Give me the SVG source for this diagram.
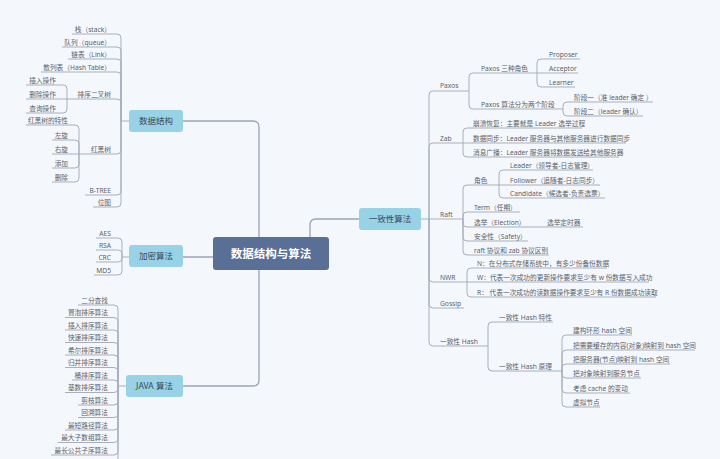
<svg xmlns="http://www.w3.org/2000/svg" width="720" height="459" viewBox="0 0 720 459">
<style>
.t{font-family:"Noto Sans","Noto Sans CJK SC",sans-serif;font-size:6.7px;fill:#5c6168}
.e{text-anchor:end}
.b{font-family:"Noto Sans","Noto Sans CJK SC",sans-serif;font-size:8.5px;fill:#3c4858;text-anchor:middle}
.box{fill:#97d2e7}
.c{fill:none;stroke:#a8aebb;stroke-width:1}
.m{fill:none;stroke:#9aa2b4;stroke-width:1.3}
</style>
<rect width="720" height="459" fill="#f4f8fd"/>
<g id="connectors">
<path class="m" d="M259,237 V127 Q259,121 253,121 H183 M213,257 H183 M259,270 V380 Q259,386 253,386 H183 M310,237 V225 Q310,219 316,219 H359"/>
<path class="c" d="M129,121 H121 M121,121 V38 Q121,34 117,34 H72 M121,121 V51 Q121,47 117,47 H62 M121,121 V63 Q121,59 117,59 H68 M121,121 V76 Q121,72 117,72 H41 M121,121 V103 Q121,99 117,99 H67 M121,121 V150 Q121,154 117,154 H79 M121,121 V191 Q121,195 117,195 H85 M121,121 V203 Q121,207 117,207 H93"/>
<path class="c" d="M67,99 V89 Q67,85 63,85 H26 M67,99 H26 M67,99 V109 Q67,113 63,113 H26"/>
<path class="c" d="M79,154 V129 Q79,125 75,125 H26 M79,154 V144 Q79,140 75,140 H52 M79,154 H52 M79,154 V164 Q79,168 75,168 H52 M79,154 V178 Q79,182 75,182 H52"/>
<path class="c" d="M129,257 H122 M122,257 V242 Q122,238 118,238 H96 M122,257 V254 Q122,250 118,250 H96 M122,257 V258 Q122,262 118,262 H96 M122,257 V271 Q122,275 118,275 H94"/>
<path class="c" d="M126,386 H118 M118,386 V309 Q118,305 114,305 H78 M118,386 V321.5 Q118,317.5 114,317.5 H65 M118,386 V334 Q118,330 114,330 H65 M118,386 V346.5 Q118,342.5 114,342.5 H65 M118,386 V359 Q118,355 114,355 H65 M118,386 V371.5 Q118,367.5 114,367.5 H65 M118,386 V384 Q118,380 114,380 H72 M118,386 V388.5 Q118,392.5 114,392.5 H65 M118,386 V401 Q118,405 114,405 H78 M118,386 V413.5 Q118,417.5 114,417.5 H78 M118,386 V426 Q118,430 114,430 H65 M118,386 V438.5 Q118,442.5 114,442.5 H58 M118,386 V451 Q118,455 114,455 H51 M118,386 V470"/>
<path class="c" d="M421,219 H429 M429,219 V95 Q429,91 433,91 H469 M429,219 V147 Q429,143 433,143 H463 M429,219 H463 M429,219 V278 Q429,282 433,282 H467 M429,219 V304 Q429,308 433,308 H464 M429,219 V342 Q429,346 433,346 H488"/>
<path class="c" d="M469,91 V77 Q469,73 473,73 H537 M469,91 V105 Q469,109 473,109 H563 M537,73 V63 Q537,59 541,59 H580 M537,73 H578 M537,73 V83 Q537,87 541,87 H575 M563,109 V106 Q563,102 567,102 H653 M563,109 V112 Q563,116 567,116 H643"/>
<path class="c" d="M463,143 V132 Q463,128 467,128 H582 M463,143 H626 M463,143 V153 Q463,157 467,157 H619"/>
<path class="c" d="M463,219 V189 Q463,185 467,185 H499 M463,219 V216 Q463,212 467,212 H520 M463,219 V223 Q463,227 467,227 H583 M463,219 V237 Q463,241 467,241 H528 M463,219 V251 Q463,255 467,255 H549 M499,185 V174 Q499,170 503,170 H593 M499,185 H600 M499,185 V194 Q499,198 503,198 H605"/>
<path class="c" d="M467,282 V272 Q467,268 471,268 H607 M467,282 H649 M467,282 V293 Q467,297 471,297 H656"/>
<path class="c" d="M488,346 V326 Q488,322 492,322 H553 M488,346 V367 Q488,371 492,371 H562 M562,371 V339 Q562,335 566,335 H632 M562,371 V354 Q562,350 566,350 H695 M562,371 V368 Q562,364 566,364 H670 M562,371 V374 Q562,378 566,378 H641 M562,371 V389 Q562,393 566,393 H630 M562,371 V403 Q562,407 566,407 H600"/>
</g>
<g id="root">
<rect x="213" y="237" width="116" height="33" rx="3" fill="#5a6f95"/>
<text x="271" y="258" text-anchor="middle" font-family="'Noto Sans','Noto Sans CJK SC',sans-serif" font-size="11.5" font-weight="bold" fill="#ffffff">数据结构与算法</text>
</g>
<g id="n-ds">
<rect class="box" x="129" y="110" width="54" height="22" rx="3"/>
<text class="b" x="156" y="124">数据结构</text>
</g>
<g id="n-crypto">
<rect class="box" x="129" y="245" width="54" height="22" rx="3"/>
<text class="b" x="156" y="259">加密算法</text>
</g>
<g id="n-java">
<rect class="box" x="126" y="375" width="57" height="22" rx="3"/>
<text class="b" x="154.5" y="389">JAVA 算法</text>
</g>
<g id="n-consensus">
<rect class="box" x="359" y="208" width="62" height="22" rx="3"/>
<text class="b" x="390" y="222">一致性算法</text>
</g>
<g id="ds-children">
<text class="t e" x="111" y="31.5">栈（stack）</text>
<text class="t e" x="111" y="44.5">队列（queue）</text>
<text class="t e" x="111" y="56.5">链表（Link）</text>
<text class="t e" x="111" y="69.5">散列表（Hash Table）</text>
<text class="t e" x="111" y="96.5">排序二叉树</text>
<text class="t e" x="56" y="82.5">插入操作</text>
<text class="t e" x="56" y="96.5">删除操作</text>
<text class="t e" x="56" y="110.5">查询操作</text>
<text class="t e" x="111" y="151.5">红黑树</text>
<text class="t e" x="68" y="122.5">红黑树的特性</text>
<text class="t e" x="68" y="137.5">左旋</text>
<text class="t e" x="68" y="151.5">右旋</text>
<text class="t e" x="68" y="165.5">添加</text>
<text class="t e" x="68" y="179.5">删除</text>
<text class="t e" x="111" y="192.5">B-TREE</text>
<text class="t e" x="111" y="204.5">位图</text>
</g>
<g id="crypto-children">
<text class="t e" x="111" y="235.5">AES</text>
<text class="t e" x="111" y="247.5">RSA</text>
<text class="t e" x="111" y="259.5">CRC</text>
<text class="t e" x="111" y="272.5">MD5</text>
</g>
<g id="java-children">
<text class="t e" x="108" y="302.5">二分查找</text>
<text class="t e" x="108" y="315">冒泡排序算法</text>
<text class="t e" x="108" y="327.5">插入排序算法</text>
<text class="t e" x="108" y="340">快速排序算法</text>
<text class="t e" x="108" y="352.5">希尔排序算法</text>
<text class="t e" x="108" y="365">归并排序算法</text>
<text class="t e" x="108" y="377.5">桶排序算法</text>
<text class="t e" x="108" y="390">基数排序算法</text>
<text class="t e" x="108" y="402.5">剪枝算法</text>
<text class="t e" x="108" y="415">回溯算法</text>
<text class="t e" x="108" y="427.5">最短路径算法</text>
<text class="t e" x="108" y="440">最大子数组算法</text>
<text class="t e" x="108" y="452.5">最长公共子序算法</text>
</g>
<g id="consensus-children">
<text class="t" x="440" y="88">Paxos</text>
<text class="t" x="481" y="70.5">Paxos 三种角色</text>
<text class="t" x="549" y="56.5">Proposer</text>
<text class="t" x="549" y="70.5">Acceptor</text>
<text class="t" x="549" y="84.5">Learner</text>
<text class="t" x="481" y="106.5">Paxos 算法分为两个阶段</text>
<text class="t" x="574" y="99.5">阶段一（准 leader 确定 ）</text>
<text class="t" x="574" y="113.5">阶段二（leader 确认）</text>
<text class="t" x="440" y="140.5">Zab</text>
<text class="t" x="473" y="125.5">崩溃恢复：主要就是 Leader 选举过程</text>
<text class="t" x="473" y="140.5">数据同步：Leader 服务器与其他服务器进行数据同步</text>
<text class="t" x="473" y="154.5">消息广播：Leader 服务器将数据发送给其他服务器</text>
<text class="t" x="440" y="216.5">Raft</text>
<text class="t" x="474" y="182.5">角色</text>
<text class="t" x="510" y="167.5">Leader（领导者-日志管理）</text>
<text class="t" x="510" y="182.5">Follower（追随者-日志同步）</text>
<text class="t" x="510" y="195.5">Candidate（候选者-负责选票）</text>
<text class="t" x="474" y="209.5">Term（任期）</text>
<text class="t" x="474" y="224.5">选举（Election）</text>
<text class="t" x="547" y="224.5">选举定时器</text>
<text class="t" x="474" y="238.5">安全性（Safety）</text>
<text class="t" x="474" y="252.5">raft 协议和 zab 协议区别</text>
<text class="t" x="440" y="279.5">NWR</text>
<text class="t" x="477" y="265.5">N：在分布式存储系统中，有多少份备份数据</text>
<text class="t" x="477" y="279.5">W：代表一次成功的更新操作要求至少有 w 份数据写入成功</text>
<text class="t" x="477" y="294.5">R： 代表一次成功的读数据操作要求至少有 R 份数据成功读取</text>
<text class="t" x="440" y="305.5">Gossip</text>
<text class="t" x="440" y="343.5">一致性 Hash</text>
<text class="t" x="499" y="319.5">一致性 Hash 特性</text>
<text class="t" x="499" y="368.5">一致性 Hash 原理</text>
<text class="t" x="573" y="332.5">建构环形 hash 空间</text>
<text class="t" x="573" y="347.5">把需要缓存的内容(对象)映射到 hash 空间</text>
<text class="t" x="573" y="361.5">把服务器(节点)映射到 hash 空间</text>
<text class="t" x="573" y="375.5">把对象映射到服务节点</text>
<text class="t" x="573" y="390.5">考虑 cache 的变动</text>
<text class="t" x="573" y="404.5">虚拟节点</text>
</g>
</svg>
